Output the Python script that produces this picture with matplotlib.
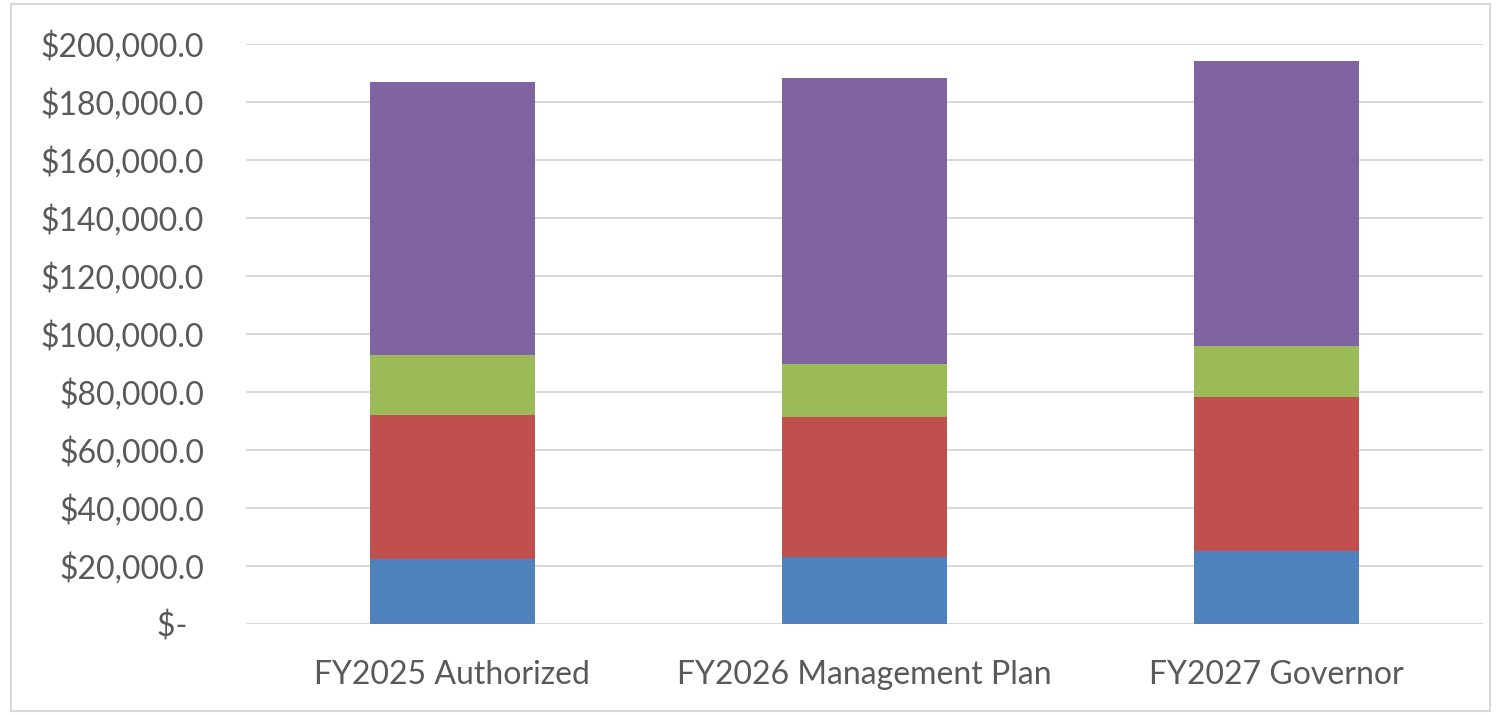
import matplotlib.pyplot as plt
from matplotlib.patches import Rectangle

# values (thousands of dollars)
categories = ["FY2025 Authorized", "FY2026 Management Plan", "FY2027 Governor"]
seg_blue = [22.4, 23.1, 25.2]
seg_red = [49.7, 48.3, 53.0]
seg_green = [20.8, 18.2, 17.5]
seg_purple = [94.0, 98.8, 98.6]

ytick_vals = [0, 20000, 40000, 60000, 80000, 100000, 120000, 140000, 160000, 180000, 200000]
ytick_labels = ["$-  ", "$20,000.0", "$40,000.0", "$60,000.0", "$80,000.0", "$100,000.0",
                "$120,000.0", "$140,000.0", "$160,000.0", "$180,000.0", "$200,000.0"]

colors = ["#4F81BD", "#C0504D", "#9BBB59", "#8064A2"]
series = [seg_blue, seg_red, seg_green, seg_purple]

plt.rcParams['font.family'] = ['Lato', 'DejaVu Sans']

fig = plt.figure(figsize=(14.96, 7.15), dpi=100)
ax = fig.add_axes([246/1496, 1-624/715, (1483-246)/1496, (624-44)/715])

x = list(range(len(categories)))
bottom = [0.0]*len(categories)
for vals, c in zip(series, colors):
    v = [s*1000 for s in vals]
    ax.bar(x, v, width=0.40, bottom=bottom, color=c, zorder=2)
    bottom = [b + s for b, s in zip(bottom, v)]

ax.set_xlim(-0.5, 2.5)
ax.set_ylim(0, 200000)
ax.set_yticks(ytick_vals)
ax.set_yticklabels(ytick_labels)
ax.set_xticks(x)
ax.set_xticklabels(categories)
ax.grid(axis="y", color="#D9D9D9", linewidth=1.5, zorder=0)
for s in ax.spines.values():
    s.set_visible(False)
ax.tick_params(axis="both", length=0, colors="#595959", labelsize=23)
ax.tick_params(axis="y", pad=30)
ax.tick_params(axis="x", pad=26)

# chart-area border
fig.patches.append(Rectangle((11/1496, 4/715), (1490-11)/1496, (711-4)/715,
                             transform=fig.transFigure, fill=False,
                             edgecolor="#D9D9D9", linewidth=1.5))

plt.savefig("out.png", dpi=100)
